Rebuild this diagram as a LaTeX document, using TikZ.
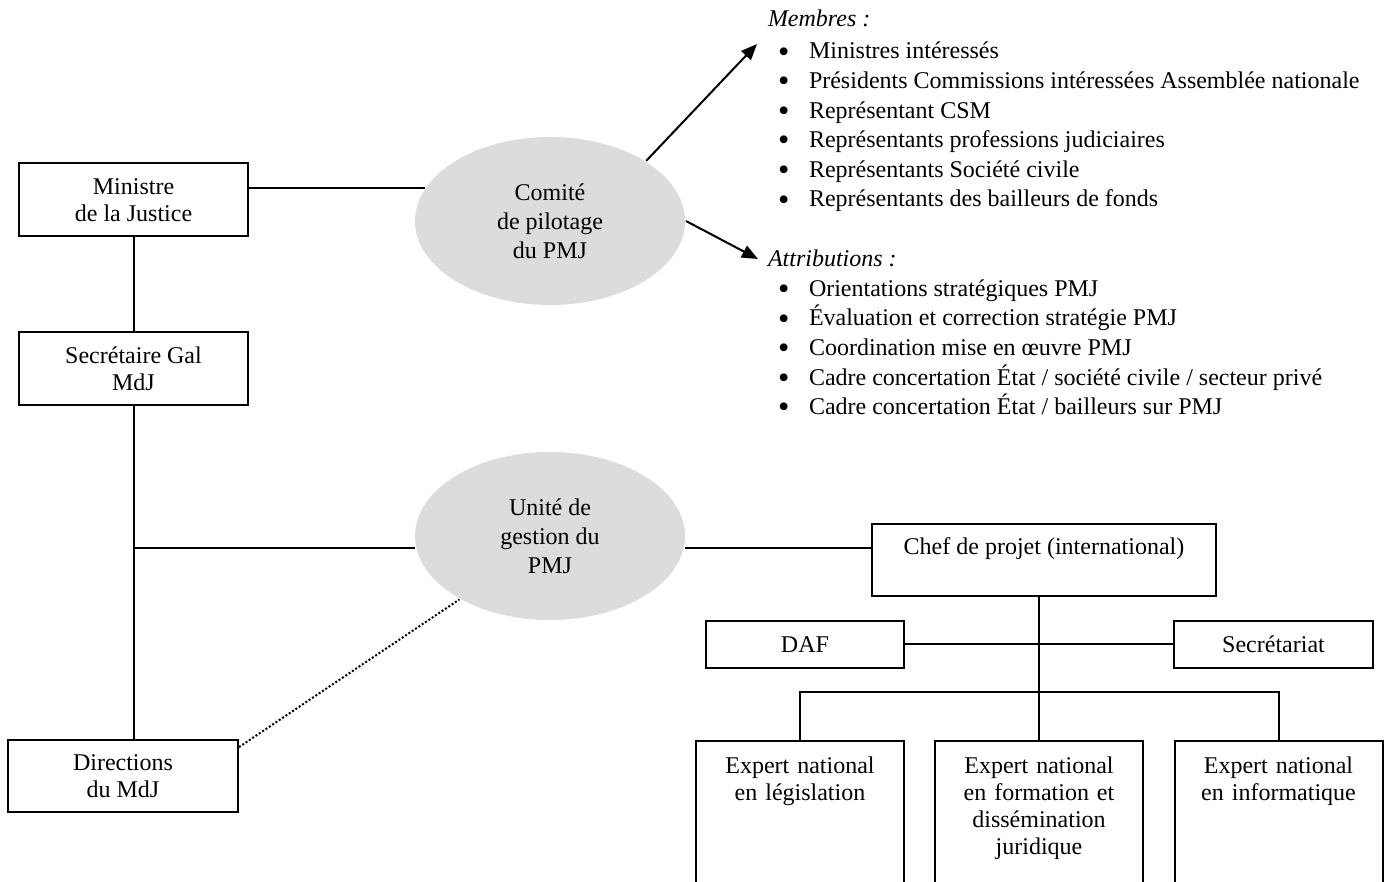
\documentclass[tikz,border=0pt]{standalone}
\usepackage{fontspec}
\setmainfont{Liberation Serif}
\usetikzlibrary{arrows.meta,shapes.geometric}
\definecolor{ovalgray}{RGB}{220,220,220}
\newcommand{\itm}{\hspace*{5pt}\makebox[15.5pt][l]{\raisebox{-1.6pt}{\scalebox{1.35}{\textbullet}}}}

\begin{document}
\begin{tikzpicture}[x=0.5pt,y=-0.5pt,line width=1pt,
	box/.style={draw,rectangle,align=center,inner sep=0pt,font=\fontsize{12}{13.5}\selectfont},
	oval/.style={ellipse,fill=ovalgray,minimum width=135pt,minimum height=84pt,inner sep=0pt,align=center,font=\fontsize{12}{14.5}\selectfont},
	expert/.style={box,anchor=north,text width=100pt,minimum width=104pt,inner ysep=8pt,text depth=70pt},
	liste/.style={anchor=north west,align=left,inner sep=0pt,font=\fontsize{12}{14.8}\selectfont},
	arr/.style={-{Triangle[length=8pt,width=6.5pt]}}]
	\useasboundingbox (0,0) rectangle (1389,882);
	\clip (0,0) rectangle (1389,882);

	\node [box,minimum width=114.5pt,minimum height=36.5pt] (ministre) at (133.5,200) {Ministre\\de la Justice};
	\node [box,minimum width=114.5pt,minimum height=36.5pt] (secretaire) at (133.5,368.5) {Secrétaire Gal\\MdJ};
	\node [box,minimum width=115pt,minimum height=36pt] (directions) at (123,776) {Directions\\du MdJ};

	\node [oval] (comite) at (550,221) {Comité\\de pilotage\\du PMJ};
	\node [oval] (unite) at (550,536) {Unité de\\gestion du\\PMJ};

	\node [liste] (membres) at (767,9) {\textit{Membres :}\\[1.3pt]
		\itm Ministres intéressés\\
		\itm Présidents Commissions intéressées Assemblée nationale\\
		\itm Représentant CSM\\
		\itm Représentants professions judiciaires\\
		\itm Représentants Société civile\\
		\itm Représentants des bailleurs de fonds};
	\node [liste] (attributions) at (767,249) {\textit{Attributions :}\\
		\itm Orientations stratégiques PMJ\\
		\itm Évaluation et correction stratégie PMJ\\
		\itm Coordination mise en œuvre PMJ\\
		\itm Cadre concertation État / société civile / secteur privé\\
		\itm Cadre concertation État / bailleurs sur PMJ};
	\coordinate (mtip) at (757,44);
	\coordinate (atip) at (758,259);

	\node [box,minimum width=172pt,minimum height=36pt] (chef) at (1044,560) {Chef de projet (international)\\\mbox{}};
	\node [box,minimum width=99pt,minimum height=23.5pt] (daf) at (805,644.5) {DAF};
	\node [box,minimum width=99.5pt,minimum height=23.5pt] (secr) at (1273.5,644.5) {Secrétariat};
	\node [expert] (e1) at (800,740) {Expert national\\en législation};
	\node [expert] (e2) at (1039,740) {Expert national\\en formation et\\dissémination\\juridique};
	\node [expert] (e3) at (1278.5,740) {Expert national\\en informatique};

	\draw (comite.165) -- (comite.165 -| ministre.east);
	\draw (ministre) -- (secretaire);
	\draw (secretaire.south) -- (secretaire.south |- directions.north);
	\draw (unite.185) -- (unite.185 -| secretaire.south);
	\draw (unite.-5) -- (unite.-5 -| chef.west);
	\draw [dash pattern=on 1pt off 1pt] (directions.14) -- (unite.215);
	\draw [arr] (comite.32) -- (mtip);
	\draw [arr] (comite.east) -- (atip);
	\draw (chef.south -| e2.north) -- (e2.north);
	\draw (daf) -- (secr);
	\draw (e1.north) -- ++(0,-48) -| (e3.north);
\end{tikzpicture}
\end{document}
